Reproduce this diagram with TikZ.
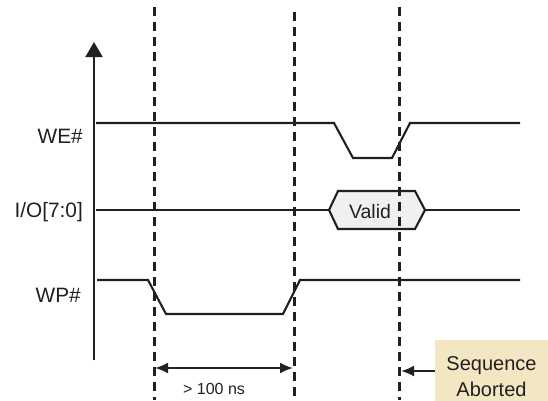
\documentclass[tikz,border=0pt]{standalone}
\usepackage{fontspec}
\setmainfont{Liberation Sans}
\usetikzlibrary{arrows.meta}
\definecolor{seqtan}{HTML}{F3E7C3}
\definecolor{validgray}{HTML}{F0F0F0}
\definecolor{ink}{HTML}{231F20}
\begin{document}
\begin{tikzpicture}[x=1pt,y=-1pt,
  sig/.style={draw=ink,line width=2.1pt,line join=miter},
  guide/.style={draw=ink,line width=3pt,dash pattern=on 9pt off 6pt},
  lbl/.style={text=ink,font=\fontsize{20.8}{24}\selectfont,anchor=base east,inner sep=0pt},
  dimarrow/.style={draw=ink,line width=2.1pt,{Latex[length=13pt,width=11pt]}-{Latex[length=13pt,width=11pt]}},
  seqbox/.style={fill=seqtan,draw=none,minimum width=113pt,minimum height=74pt,inner sep=0pt,
    align=center,text=ink,font=\fontsize{20}{26}\selectfont},
]
\useasboundingbox (0,0) rectangle (548,400);

% Axis
\coordinate (ax0) at (94,360);
\coordinate (ax1) at (94,42);
\draw[draw=ink,line width=2.1pt,-{Triangle[length=15pt,width=17pt]}] (ax0) -- (ax1);

% Labels
\node[lbl] (we) at (83,143) {WE\#};
\node[lbl] (io) at (83,217) {I/O[7:0]};
\node[lbl] (wp) at (81,302) {WP\#};

% WE# waveform
\draw[sig] (96,123) -- (334,123) -- (353,158) -- (392,158) -- (410,123) -- (520,123);

% I/O waveform with Valid
\draw[sig] (96,210) -- (329,210);
\draw[sig,fill=validgray] (329,210) -- (338,191) -- (415,191) -- (425,210) -- (415,229) -- (338,229) -- cycle;
\node[text=ink,font=\fontsize{19.5}{22}\selectfont,anchor=base,inner sep=0pt] (valid) at (370,218) {Valid};
\draw[sig] (425,210) -- (520,210);

% WP# waveform
\draw[sig] (97,280) -- (148,280) -- (166,314) -- (283,314) -- (300,280) -- (520,280);

% Dashed guides
\coordinate (g1t) at (154,7);  \coordinate (g1b) at (154,400);
\coordinate (g2t) at (294,12); \coordinate (g2b) at (294,400);
\coordinate (g3t) at (399,7);  \coordinate (g3b) at (399,400);
\draw[guide] (g1t) -- (g1b);
\draw[guide] (g2t) -- (g2b);
\draw[guide] (g3t) -- (g3b);

% Dimension
\coordinate (d1) at (155,368);
\coordinate (d2) at (293,368);
\draw[dimarrow] (d1) -- (d2);
\node[text=ink,font=\fontsize{16}{18}\selectfont,anchor=base,inner sep=0pt] (dimlbl) at (214,394) {> 100 ns};

% Sequence Aborted
\node[seqbox] (seq) at (491.5,377) {Sequence\\Aborted};
\coordinate (sa) at (401,371);
\draw[draw=ink,line width=2.1pt,-{Latex[length=13pt,width=11pt]}] (seq.west |- sa) -- (sa);
\end{tikzpicture}
\end{document}
